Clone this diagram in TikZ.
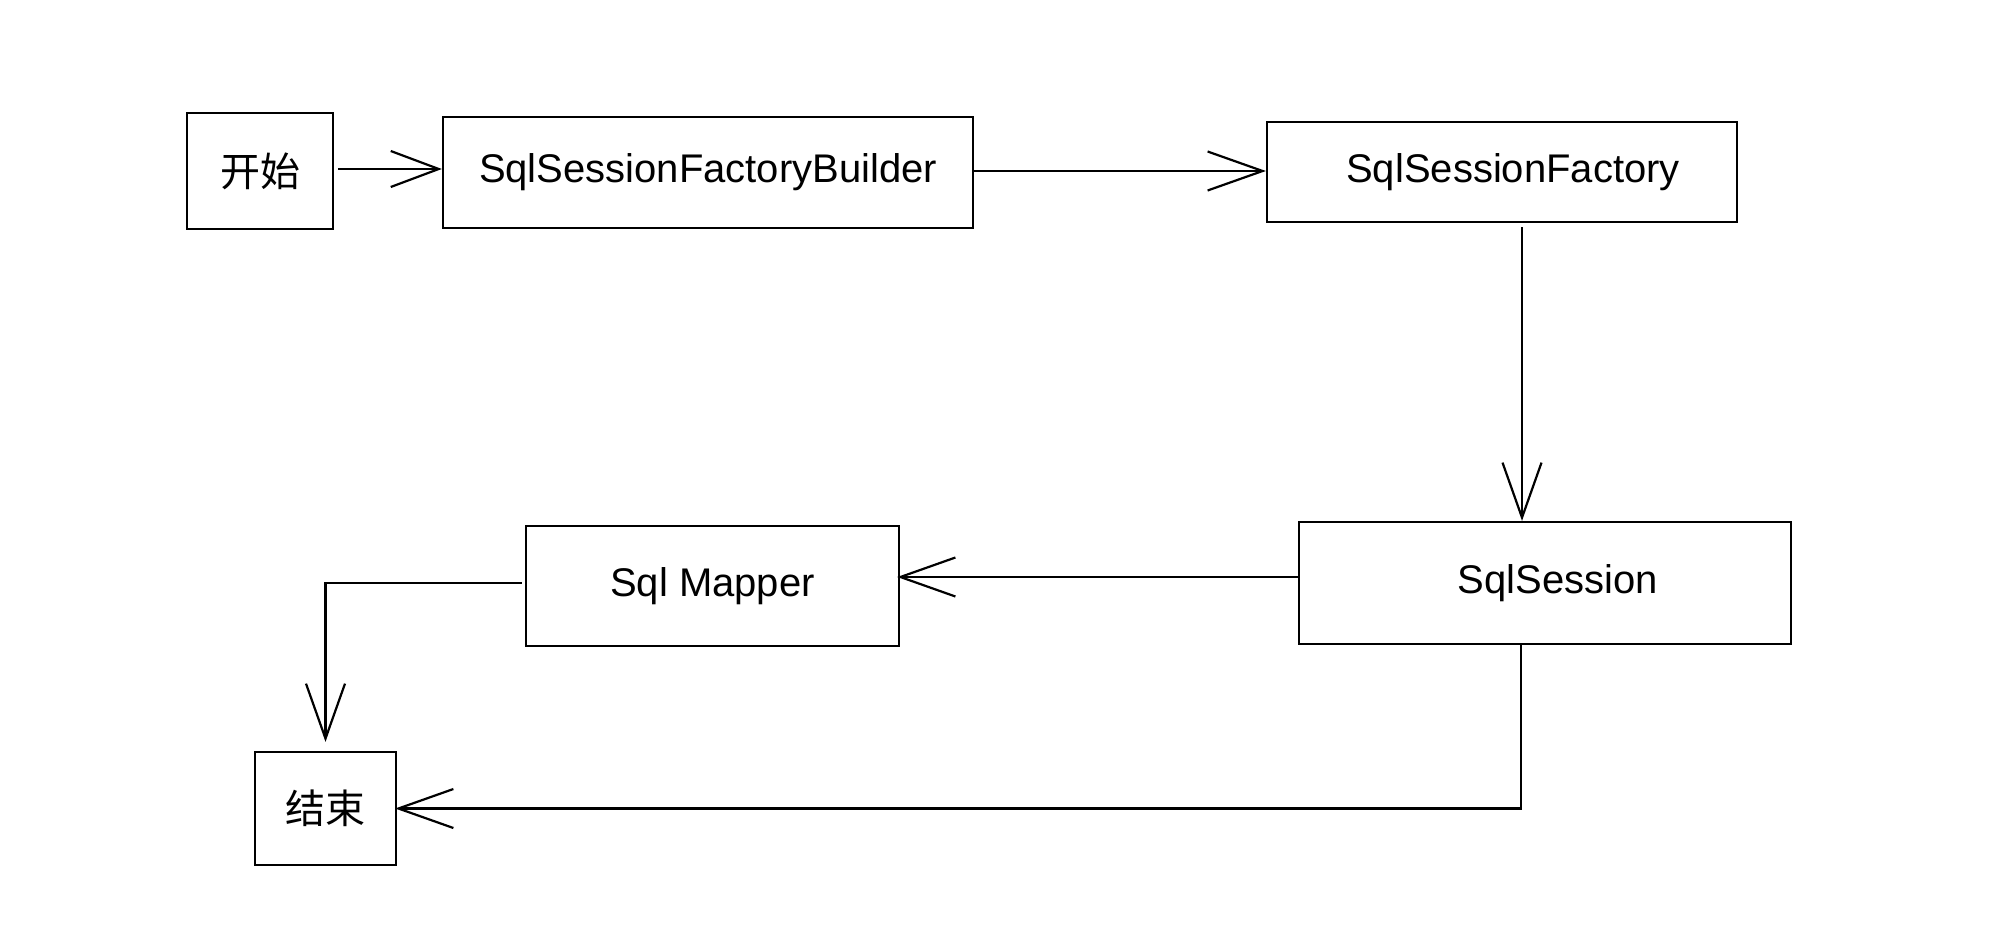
\documentclass[tikz,border=0pt]{standalone}
\usepackage{fontspec}
\setmainfont{Liberation Sans}
\newfontfamily\cjk{Noto Sans CJK SC}
\usetikzlibrary{arrows.meta,calc}
\begin{document}
\begin{tikzpicture}[x=0.5pt,y=-0.5pt,
  box/.style={draw,line width=1.1pt,inner sep=0pt,font=\fontsize{20pt}{24pt}\selectfont},
  arr/.style={line width=1.1pt,-{Straight Barb[length=27.5pt,width=19.5pt,line width=1.1pt]}}]
\useasboundingbox (0,0) rectangle (2007,937);
\node[box,minimum width=73pt,minimum height=58pt] (start) at (260,171) {\cjk 开始};
\node[box,minimum width=265pt,minimum height=55.5pt] (builder) at (708,172.5) {SqlSessionFactoryBuilder};
\node[box,minimum width=235pt,minimum height=50pt] (factory) at (1502,172) {\hspace*{11pt}SqlSessionFactory};
\node[box,minimum width=246pt,minimum height=61pt] (session) at (1545,583) {\hspace*{13pt}SqlSession};
\node[box,minimum width=186.5pt,minimum height=60pt] (mapper) at (712.5,586) {Sql Mapper};
\node[box,minimum width=70.5pt,minimum height=56.5pt] (end) at (325.5,808.5) {\cjk 结束};
% connectors
\coordinate (s1) at ($(start.east)+(4,-2)$);
\draw[arr,-{Straight Barb[length=24pt,width=18pt,line width=1.1pt]}] (s1) -- (s1 -| builder.west);
\coordinate (b1) at ($(builder.east)+(0,-1.5)$);
\draw[arr] (b1) -- (b1 -| factory.west);
\coordinate (f1) at ($(factory.south)+(20,4)$);
\draw[arr] (f1) -- (f1 |- session.north);
\coordinate (ss1) at ($(session.west)+(0,-6)$);
\draw[arr] (ss1) -- ($(ss1 -| mapper.east)+(-3,0)$);
\coordinate (m1) at ($(mapper.west)+(-3,-3)$);
\draw[arr] (m1) -| ($(end.north)+(0,-9)$);
\coordinate (ss2) at ($(session.south)+(-24,0)$);
\draw[arr] (ss2) |- ($(end.east)+(-2,0)$);
\end{tikzpicture}
\end{document}
